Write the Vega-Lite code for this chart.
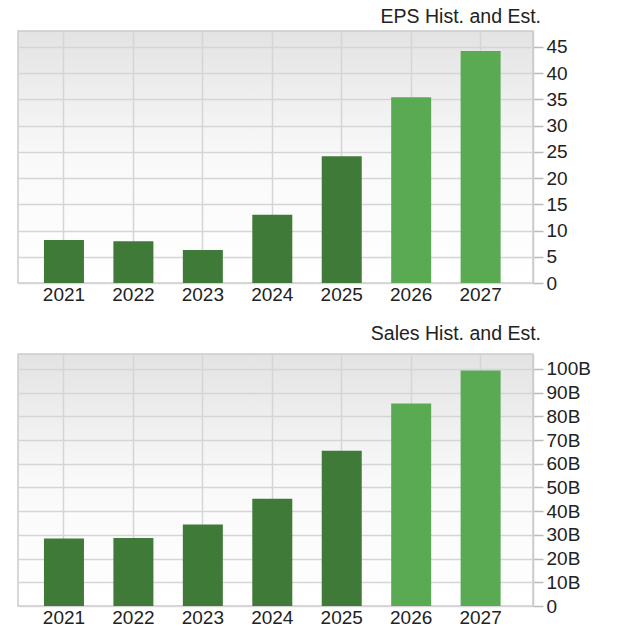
{
  "$schema": "https://vega.github.io/schema/vega-lite/v6.json",
  "padding": {"left": 17, "top": 5, "right": 0, "bottom": 0},
  "background": "white",
  "spacing": 17,
  "datasets": {
    "eps": [
      {"year": "2021", "kind": "hist", "eps": 8.2},
      {"year": "2022", "kind": "hist", "eps": 7.95},
      {"year": "2023", "kind": "hist", "eps": 6.3},
      {"year": "2024", "kind": "hist", "eps": 13.0},
      {"year": "2025", "kind": "hist", "eps": 24.15},
      {"year": "2026", "kind": "est", "eps": 35.4},
      {"year": "2027", "kind": "est", "eps": 44.2}
    ],
    "sales": [
      {"year": "2021", "kind": "hist", "sales": 28.5},
      {"year": "2022", "kind": "hist", "sales": 28.7},
      {"year": "2023", "kind": "hist", "sales": 34.4},
      {"year": "2024", "kind": "hist", "sales": 45.2},
      {"year": "2025", "kind": "hist", "sales": 65.5},
      {"year": "2026", "kind": "est", "sales": 85.4},
      {"year": "2027", "kind": "est", "sales": 99.3}
    ]
  },
  "vconcat": [
    {
      "title": {"text": "EPS Hist. and Est.", "offset": 4},
      "width": 515,
      "height": 252,
      "data": {"name": "eps"},
      "mark": {"type": "bar"},
      "encoding": {
        "x": {
          "field": "year",
          "type": "ordinal",
          "scale": {"paddingInner": 0.424, "paddingOuter": 0.42, "align": 0.445},
          "axis": {"title": null}
        },
        "y": {
          "field": "eps",
          "type": "quantitative",
          "scale": {"domain": [0, 48], "nice": false},
          "axis": {"title": null, "orient": "right", "values": [0, 5, 10, 15, 20, 25, 30, 35, 40, 45]}
        },
        "color": {
          "field": "kind",
          "type": "nominal",
          "scale": {"domain": ["hist", "est"], "range": ["#3f7a38", "#5aaa53"]},
          "legend": null
        }
      }
    },
    {
      "title": {"text": "Sales Hist. and Est.", "offset": 10},
      "width": 515,
      "height": 252,
      "data": {"name": "sales"},
      "mark": {"type": "bar"},
      "encoding": {
        "x": {
          "field": "year",
          "type": "ordinal",
          "scale": {"paddingInner": 0.424, "paddingOuter": 0.42, "align": 0.445},
          "axis": {"title": null}
        },
        "y": {
          "field": "sales",
          "type": "quantitative",
          "scale": {"domain": [0, 106.3], "nice": false},
          "axis": {
            "title": null,
            "orient": "right",
            "values": [0, 10, 20, 30, 40, 50, 60, 70, 80, 90, 100],
            "labelExpr": "datum.value == 0 ? '0' : datum.value + 'B'"
          }
        },
        "color": {
          "field": "kind",
          "type": "nominal",
          "scale": {"domain": ["hist", "est"], "range": ["#3f7a38", "#5aaa53"]},
          "legend": null
        }
      }
    }
  ],
  "config": {
    "view": {
      "stroke": "#cccccc",
      "strokeWidth": 1.5,
      "fill": {
        "gradient": "linear",
        "x1": 0, "y1": 0, "x2": 0, "y2": 1,
        "stops": [
          {"offset": 0, "color": "#e3e3e3"},
          {"offset": 0.5, "color": "#f9f9f9"},
          {"offset": 1, "color": "#ffffff"}
        ]
      }
    },
    "axis": {
      "labelFont": "Liberation Sans",
      "labelFontSize": 19,
      "labelColor": "#222222",
      "gridColor": "#d5d5d5",
      "gridWidth": 1.5,
      "grid": true
    },
    "axisX": {
      "ticks": false,
      "domain": false,
      "labelAngle": 0,
      "labelPadding": 2,
      "bandPosition": 0.5
    },
    "axisY": {
      "tickSize": 10,
      "tickColor": "#bbbbbb",
      "tickWidth": 1.5,
      "domainColor": "#cccccc",
      "domainWidth": 1.5,
      "labelPadding": 3
    },
    "title": {
      "anchor": "end",
      "frame": "group",
      "font": "Liberation Sans",
      "fontSize": 19.5,
      "fontWeight": "normal",
      "color": "#222222",
      "dx": 8
    }
  }
}
